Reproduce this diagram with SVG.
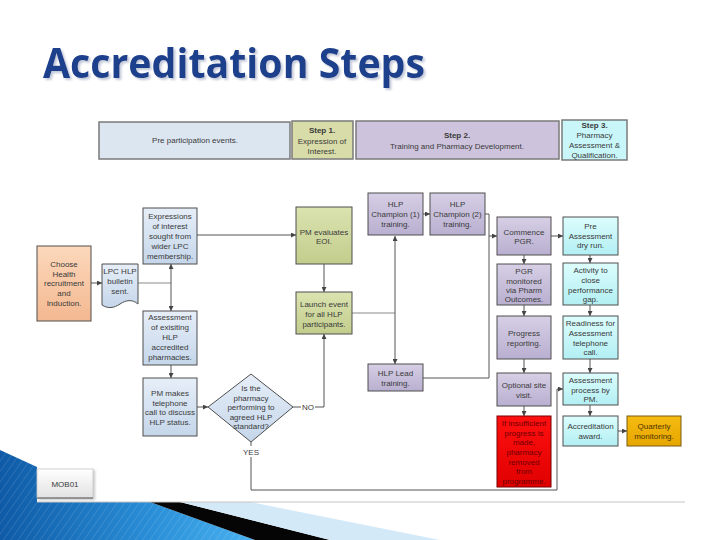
<svg xmlns="http://www.w3.org/2000/svg" width="720" height="540" viewBox="0 0 720 540">
<defs>
<style>
.t{font-family:"Liberation Sans",Arial,sans-serif;font-size:8px;text-anchor:middle;fill:#3a3a3a}
.b{font-weight:bold}
.c{fill:none;stroke:#555;stroke-width:1}
.cl{fill:none;stroke:#8a8a8a;stroke-width:1}
.box{stroke:#4f4f4f;stroke-width:1}
.hdr{stroke:#7a7a7a;stroke-width:1.5}
</style>
<linearGradient id="gBlue" x1="0" y1="0" x2="0" y2="1"><stop offset="0" stop-color="#e6eef8"/><stop offset="1" stop-color="#c5d6ea"/></linearGradient>
<linearGradient id="gGreen" x1="0" y1="0" x2="0" y2="1"><stop offset="0" stop-color="#dbe3b0"/><stop offset="1" stop-color="#c2cd8c"/></linearGradient>
<linearGradient id="gLav" x1="0" y1="0" x2="0" y2="1"><stop offset="0" stop-color="#d6cfe5"/><stop offset="1" stop-color="#b9afd0"/></linearGradient>
<linearGradient id="gCyan" x1="0" y1="0" x2="0" y2="1"><stop offset="0" stop-color="#ddfdfd"/><stop offset="1" stop-color="#b2eff3"/></linearGradient>
<linearGradient id="gRed" x1="0" y1="0" x2="0" y2="1"><stop offset="0" stop-color="#ff1010"/><stop offset="1" stop-color="#e00000"/></linearGradient>
<linearGradient id="gGold" x1="0" y1="0" x2="0" y2="1"><stop offset="0" stop-color="#f6bb10"/><stop offset="1" stop-color="#e6a600"/></linearGradient>
<linearGradient id="gPeach" x1="0" y1="0" x2="0" y2="1"><stop offset="0" stop-color="#fcd8bc"/><stop offset="1" stop-color="#f3b890"/></linearGradient>
<linearGradient id="gGray" x1="0" y1="0" x2="0" y2="1"><stop offset="0" stop-color="#ffffff"/><stop offset="1" stop-color="#e2e2e2"/></linearGradient>
<linearGradient id="gDeco" x1="0" y1="0" x2="1" y2="0"><stop offset="0" stop-color="#0e5aa6"/><stop offset="0.6" stop-color="#2a8fd8"/><stop offset="1" stop-color="#49b2f0"/></linearGradient>
<pattern id="stripes" width="6" height="6" patternUnits="userSpaceOnUse" patternTransform="rotate(35)"><line x1="0" y1="0" x2="0" y2="6" stroke="#ffffff" stroke-opacity="0.18" stroke-width="1.2"/></pattern>
<marker id="ah" viewBox="0 0 10 10" refX="10" refY="5" markerWidth="5" markerHeight="5" orient="auto-start-reverse" markerUnits="userSpaceOnUse"><path d="M0,0 L10,5 L0,10 Z" fill="#444"/></marker>
<filter id="sh" x="-5%" y="-20%" width="110%" height="150%"><feDropShadow dx="2" dy="2" stdDeviation="1" flood-color="#9aa4c0" flood-opacity="0.6"/></filter>
<filter id="bs" x="-20%" y="-20%" width="140%" height="140%"><feDropShadow dx="1.5" dy="1.5" stdDeviation="1" flood-color="#888" flood-opacity="0.5"/></filter>
</defs>
<rect width="720" height="540" fill="#ffffff"/>

<!-- decoration -->
<g id="decoration">
<polygon points="0,450 37,467 37,502 150,502 255,540 0,540" fill="url(#gDeco)"/>
<polygon points="0,450 37,467 37,502 150,502 255,540 0,540" fill="url(#stripes)"/>
<polygon points="150,502 180,502 330,540 255,540" fill="#050505"/>
<polygon points="180,502 250,502 440,540 330,540" fill="#d4e9f8"/>
<line x1="37" y1="502" x2="685" y2="502" stroke="#c4c4c4" stroke-width="1"/>
</g>

<text x="43" y="78" font-family="'Open Sans','Liberation Sans',Arial,sans-serif" font-weight="bold" font-size="42" fill="#1b3f8b" textLength="382" lengthAdjust="spacingAndGlyphs" filter="url(#sh)">Accreditation Steps</text>

<!-- header -->
<g id="hdr-pre"><rect class="hdr" x="99" y="122" width="191" height="37" fill="#dce6f1"/><text class="t" x="195" y="143">Pre participation events.</text></g>
<g id="hdr-step1"><rect class="hdr" x="292" y="121" width="61" height="38" fill="#d8dca8"/><text class="t"><tspan class="b" x="322" y="133">Step 1.</tspan><tspan x="322" y="144">Expression of</tspan><tspan x="322" y="154">Interest.</tspan></text></g>
<g id="hdr-step2"><rect class="hdr" x="356" y="121" width="203" height="38" fill="#cdc3dc"/><text class="t"><tspan class="b" x="457" y="138">Step 2.</tspan><tspan x="457" y="149">Training and Pharmacy Development.</tspan></text></g>
<g id="hdr-step3"><rect class="hdr" x="562" y="120" width="65" height="40" fill="#c9f7f9"/><text class="t"><tspan class="b" x="594.5" y="128">Step 3.</tspan><tspan x="594.5" y="138">Pharmacy</tspan><tspan x="594.5" y="148">Assessment &amp;</tspan><tspan x="594.5" y="158">Qualification.</tspan></text></g>

<!-- connectors -->
<g id="connectors">
<path class="c" d="M91,283 H102" marker-end="url(#ah)"/>
<path class="cl" d="M138,283 H171"/>
<path class="c" d="M171,264 V311" marker-start="url(#ah)" marker-end="url(#ah)"/>
<path class="c" d="M197,235 H296" marker-end="url(#ah)"/>
<path class="c" d="M171,365 V378" marker-end="url(#ah)"/>
<path class="c" d="M197,407 H208" marker-end="url(#ah)"/>
<path class="c" d="M293,407 H301"/>
<path class="c" d="M315,407 H324 V334" marker-end="url(#ah)"/>
<path class="c" d="M251,442 V446"/>
<path class="c" d="M251,457 V490 H557 V389 H563" marker-end="url(#ah)"/>
<path class="c" d="M324,264 V292" marker-end="url(#ah)"/>
<path class="cl" d="M352,313 H395"/>
<path class="c" d="M395,236 V364" marker-start="url(#ah)" marker-end="url(#ah)"/>
<path class="c" d="M423,214 H430" marker-end="url(#ah)"/>
<path class="c" d="M485,214 H489 V236 H497" marker-end="url(#ah)"/>
<path class="c" d="M423,378 H489 V236"/>
<path class="c" d="M551,236 H563" marker-end="url(#ah)"/>
<path class="c" d="M524,255 V264" marker-end="url(#ah)"/>
<path class="c" d="M524,305 V316" marker-end="url(#ah)"/>
<path class="c" d="M524,359 V373" marker-end="url(#ah)"/>
<path class="c" d="M524,406 V416" marker-end="url(#ah)"/>
<path class="c" d="M590,255 V263" marker-end="url(#ah)"/>
<path class="c" d="M590,305 V316" marker-end="url(#ah)"/>
<path class="c" d="M590,359 V373" marker-end="url(#ah)"/>
<path class="c" d="M590,405 V416" marker-end="url(#ah)"/>
<path class="c" d="M618,431 H627" marker-end="url(#ah)"/>
<text class="t" x="308" y="410">NO</text>
<text class="t" x="251" y="455">YES</text>
</g>

<!-- nodes -->
<g id="n-choose"><rect class="box" x="37" y="246" width="54" height="75" fill="url(#gPeach)"/><text class="t"><tspan x="64" y="267">Choose</tspan><tspan x="64" y="277">Health</tspan><tspan x="64" y="286">recruitment</tspan><tspan x="64" y="296">and</tspan><tspan x="64" y="306">Induction.</tspan></text></g>
<g id="n-bulletin"><path class="box" d="M102,264 H138 V304 C132,299 126,300 120,304 C114,308 108,309 102,305 Z" fill="url(#gBlue)"/><text class="t"><tspan x="120" y="274">LPC HLP</tspan><tspan x="120" y="284">bulletin</tspan><tspan x="120" y="294">sent.</tspan></text></g>
<g id="n-expressions"><rect class="box" x="143" y="208" width="54" height="56" fill="url(#gBlue)"/><text class="t"><tspan x="170" y="219">Expressions</tspan><tspan x="170" y="229">of interest</tspan><tspan x="170" y="239">sought from</tspan><tspan x="170" y="249">wider LPC</tspan><tspan x="170" y="259">membership.</tspan></text></g>
<g id="n-assessment"><rect class="box" x="143" y="311" width="54" height="54" fill="url(#gBlue)"/><text class="t"><tspan x="170" y="320">Assessment</tspan><tspan x="170" y="330">of exisiting</tspan><tspan x="170" y="340">HLP</tspan><tspan x="170" y="350">accredited</tspan><tspan x="170" y="360">pharmacies.</tspan></text></g>
<g id="n-pmcall"><rect class="box" x="143" y="378" width="54" height="58" fill="url(#gBlue)"/><text class="t"><tspan x="170" y="396">PM makes</tspan><tspan x="170" y="406">telephone</tspan><tspan x="170" y="415">call to discuss</tspan><tspan x="170" y="425">HLP status.</tspan></text></g>
<g id="n-decision"><polygon class="box" points="251,374 293,407 251,442 208,407" fill="url(#gBlue)"/><text class="t"><tspan x="251" y="391">Is the</tspan><tspan x="251" y="401">pharmacy</tspan><tspan x="251" y="410">performing to</tspan><tspan x="251" y="420">agreed HLP</tspan><tspan x="251" y="429">standard?</tspan></text></g>
<g id="n-pmeval"><rect class="box" x="296" y="207" width="56" height="57" fill="url(#gGreen)"/><text class="t"><tspan x="324" y="235">PM evaluates</tspan><tspan x="324" y="244">EOI.</tspan></text></g>
<g id="n-launch"><rect class="box" x="296" y="292" width="56" height="42" fill="url(#gGreen)"/><text class="t"><tspan x="324" y="307">Launch event</tspan><tspan x="324" y="317">for all HLP</tspan><tspan x="324" y="327">participants.</tspan></text></g>
<g id="n-champ1"><rect class="box" x="368" y="193" width="55" height="42" fill="url(#gLav)"/><text class="t"><tspan x="395.5" y="207">HLP</tspan><tspan x="395.5" y="217">Champion (1)</tspan><tspan x="395.5" y="227">training.</tspan></text></g>
<g id="n-champ2"><rect class="box" x="430" y="193" width="55" height="42" fill="url(#gLav)"/><text class="t"><tspan x="457.5" y="207">HLP</tspan><tspan x="457.5" y="217">Champion (2)</tspan><tspan x="457.5" y="227">training.</tspan></text></g>
<g id="n-lead"><rect class="box" x="368" y="364" width="55" height="27" fill="url(#gLav)"/><text class="t"><tspan x="395.5" y="376">HLP Lead</tspan><tspan x="395.5" y="386">training.</tspan></text></g>
<g id="n-commence"><rect class="box" x="497" y="217" width="54" height="38" fill="url(#gLav)"/><text class="t"><tspan x="524" y="235">Commence</tspan><tspan x="524" y="244">PGR.</tspan></text></g>
<g id="n-pgrmon"><rect class="box" x="497" y="264" width="54" height="41" fill="url(#gLav)"/><text class="t"><tspan x="524" y="274">PGR</tspan><tspan x="524" y="284">monitored</tspan><tspan x="524" y="293">via Pharm</tspan><tspan x="524" y="302">Outcomes.</tspan></text></g>
<g id="n-progress"><rect class="box" x="497" y="316" width="54" height="43" fill="url(#gLav)"/><text class="t"><tspan x="524" y="336">Progress</tspan><tspan x="524" y="346">reporting.</tspan></text></g>
<g id="n-optional"><rect class="box" x="497" y="373" width="54" height="33" fill="url(#gLav)"/><text class="t"><tspan x="524" y="388">Optional site</tspan><tspan x="524" y="398">visit.</tspan></text></g>
<g id="n-removed"><rect x="497" y="416" width="54" height="71" fill="url(#gRed)" stroke="#7a0000" stroke-width="1"/><text class="t" style="fill:#6e0000"><tspan x="524" y="426">If insufficient</tspan><tspan x="524" y="436">progress is</tspan><tspan x="524" y="445">made,</tspan><tspan x="524" y="455">pharmacy</tspan><tspan x="524" y="465">removed</tspan><tspan x="524" y="474">from</tspan><tspan x="524" y="484">programme.</tspan></text></g>
<g id="n-dryrun"><rect class="box" x="563" y="217" width="55" height="38" fill="url(#gCyan)"/><text class="t"><tspan x="590.5" y="229">Pre</tspan><tspan x="590.5" y="239">Assessment</tspan><tspan x="590.5" y="248">dry run.</tspan></text></g>
<g id="n-activity"><rect class="box" x="563" y="263" width="55" height="42" fill="url(#gCyan)"/><text class="t"><tspan x="590.5" y="273">Activity to</tspan><tspan x="590.5" y="283">close</tspan><tspan x="590.5" y="293">performance</tspan><tspan x="590.5" y="302">gap.</tspan></text></g>
<g id="n-readiness"><rect class="box" x="563" y="316" width="55" height="43" fill="url(#gCyan)"/><text class="t"><tspan x="590.5" y="326">Readiness for</tspan><tspan x="590.5" y="336">Assessment</tspan><tspan x="590.5" y="346">telephone</tspan><tspan x="590.5" y="355">call.</tspan></text></g>
<g id="n-process"><rect class="box" x="563" y="373" width="55" height="32" fill="url(#gCyan)"/><text class="t"><tspan x="590.5" y="383">Assessment</tspan><tspan x="590.5" y="393">process by</tspan><tspan x="590.5" y="402">PM.</tspan></text></g>
<g id="n-award"><rect class="box" x="563" y="416" width="55" height="30" fill="url(#gCyan)"/><text class="t"><tspan x="590.5" y="429">Accreditation</tspan><tspan x="590.5" y="439">award.</tspan></text></g>
<g id="n-quarterly"><rect x="627" y="416" width="54" height="30" fill="url(#gGold)" stroke="#7a5a10" stroke-width="1"/><text class="t" style="fill:#4e3400"><tspan x="654" y="429">Quarterly</tspan><tspan x="654" y="439">monitoring.</tspan></text></g>

<g id="footer-label"><rect x="37" y="469" width="56" height="29" fill="url(#gGray)" stroke="#c8c8c8" stroke-width="0.8" filter="url(#bs)"/><line x1="37" y1="498" x2="93" y2="498" stroke="#555" stroke-width="1"/><text class="t" x="65" y="487">MOB01</text></g>
</svg>
